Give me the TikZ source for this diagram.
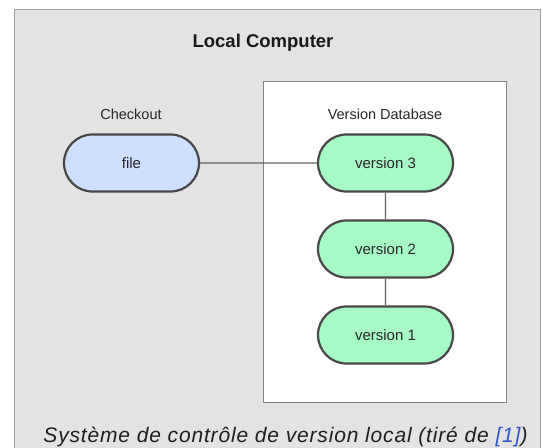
\documentclass[tikz,border=0pt]{standalone}
\usepackage{fontspec}
\setmainfont{Liberation Sans}
\newfontfamily\capfont[LetterSpace=4]{Liberation Sans}
\usetikzlibrary{shapes.misc}
\definecolor{bgGray}{RGB}{227,227,227}
\definecolor{frameGray}{RGB}{160,160,160}
\definecolor{boxGray}{RGB}{130,130,130}
\definecolor{nodeBorder}{RGB}{72,72,72}
\definecolor{fileFill}{RGB}{206,223,255}
\definecolor{verFill}{RGB}{166,250,197}
\definecolor{lineGray}{RGB}{100,100,100}
\definecolor{txtDark}{RGB}{40,40,40}
\definecolor{linkBlue}{RGB}{51,85,204}
\tikzset{
  pill/.style={rounded rectangle, draw=nodeBorder, line width=2.2pt,
    minimum width=135pt, minimum height=57pt, inner sep=0pt,
    font=\fontsize{15}{17}\selectfont, text=txtDark},
  filepill/.style={pill, fill=fileFill},
  verpill/.style={pill, fill=verFill},
  link/.style={draw=lineGray, line width=1.2pt},
  lbl/.style={font=\fontsize{14.5}{17}\selectfont, text=txtDark, inner sep=0pt},
}
\begin{document}
\begin{tikzpicture}[x=1pt,y=-1pt]
\useasboundingbox (0,0) rectangle (542,448);
\clip (0,0) rectangle (542,448);
% outer frame
\draw[fill=bgGray, draw=frameGray, line width=1.5pt] (14.5,9.5) rectangle (540.5,470);
% inner database box
\draw[fill=white, draw=boxGray, line width=1.5pt] (263.5,81.5) rectangle (506.5,402.5);
% title
\node[font=\bfseries\fontsize{18.5}{21}\selectfont, text=black!90, inner sep=0pt] (title) at (263,43) {Local Computer};
\node[lbl] (checkout) at (131,114) {Checkout};
\node[lbl] (vdb) at (385,114) {Version Database};
% nodes
\node[filepill] (file) at (131.5,163) {file};
\node[verpill] (v3) at (385.5,163) {version 3};
\node[verpill] (v2) at (385.5,249) {version 2};
\node[verpill] (v1) at (385.5,335) {version 1};
% connectors
\draw[link] (file) -- (v3);
\draw[link] (v3) -- (v2);
\draw[link] (v2) -- (v1);
% caption
\node[font=\capfont\itshape\fontsize{21}{25}\selectfont, text=black!88, inner sep=0pt, anchor=base] (caption) at (285.5,442)
  {Système de contrôle de version local (tiré de {\color{linkBlue}\underline{[1]}})};
\end{tikzpicture}
\end{document}
